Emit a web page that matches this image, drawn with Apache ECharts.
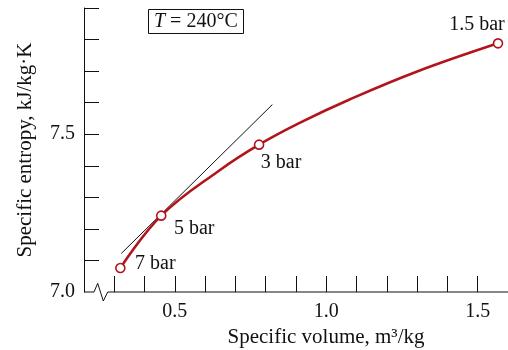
<!DOCTYPE html>
<html>
<head>
<meta charset="utf-8">
<script src="https://cdn.jsdelivr.net/npm/echarts@6/dist/echarts.min.js"></script>
<style>
html,body{margin:0;padding:0;background:#fff;}
#chart{width:508px;height:350px;}
</style>
</head>
<body>
<div id="chart"></div>
<script>
// ---- data ----
// marked states at T = 240°C
const pressureLabels = ['7 bar', '5 bar', '3 bar', '1.5 bar'];
const volume = [0.32, 0.455, 0.778, 1.567];      // m3/kg
const entropy = [7.076, 7.242, 7.467, 7.788];    // kJ/kg.K
// isotherm curve
const curveVolume = [0.32, 0.455, 0.648, 0.778, 0.912, 1.077, 1.298, 1.567];
const curveEntropy = [7.076, 7.242, 7.386, 7.467, 7.536, 7.610, 7.698, 7.788];
// tangent at 5 bar
const tangentVolume = [0.323, 0.822];
const tangentEntropy = [7.122, 7.594];
// ticks
const xTickValues = [0.3, 0.4, 0.5, 0.6, 0.7, 0.8, 0.9, 1.0, 1.1, 1.2, 1.3, 1.4, 1.5, 1.6];
const xLabelValues = [0.5, 1.0, 1.5];
const yTickValues = [7.1, 7.2, 7.3, 7.4, 7.5, 7.6, 7.7, 7.8, 7.9];
const yLabelValues = [7.0, 7.5];
const titleText = '240°C';

// ---- styling ----
const FONT = 'Liberation Serif';
const RED = '#b3141c';
const labelOffsets = [[35, -4], [33, 13], [22, 18], [-21, -19]];

const chart = echarts.init(document.getElementById('chart'), null, {renderer: 'canvas'});

const pointData = volume.map((v, i) => ({
  value: [v, entropy[i]],
  label: {
    show: true,
    formatter: pressureLabels[i],
    position: 'inside',
    align: 'center',
    verticalAlign: 'middle',
    offset: labelOffsets[i],
    fontFamily: FONT,
    fontSize: 20,
    color: '#111',
    opacity: 1,
    textBorderWidth: 0,
    textBorderColor: 'transparent'
  }
}));

const option = {
  animation: false,
  backgroundColor: '#fff',
  textStyle: {fontFamily: FONT},
  title: {
    text: '{it|T} = ' + titleText,
    left: 148,
    top: 9,
    padding: [2, 6, 1, 6],
    borderColor: '#111',
    borderWidth: 1,
    textStyle: {
      fontFamily: FONT, fontSize: 20, fontWeight: 'normal', color: '#111', lineHeight: 22,
      rich: {it: {fontFamily: FONT, fontSize: 20, fontStyle: 'italic', color: '#111', lineHeight: 22}}
    }
  },
  grid: {left: 84, right: 0, top: 8, bottom: 58, containLabel: false, outerBoundsMode: 'none'},
  xAxis: {
    type: 'value',
    min: 0.2, max: 1.6, interval: 0.1,
    name: 'Specific volume, m³/kg',
    nameLocation: 'middle',
    nameGap: 31,
    nameTextStyle: {fontFamily: FONT, fontSize: 21, color: '#111', padding: [0, 0, 0, 60]},
    axisLine: {show: false},
    axisTick: {show: true, inside: true, length: 16, customValues: xTickValues, lineStyle: {color: '#111', width: 1}},
    axisLabel: {
      customValues: xLabelValues, fontFamily: FONT, fontSize: 20, color: '#111', margin: 10,
      formatter: v => v.toFixed(1)
    },
    splitLine: {show: false}
  },
  yAxis: {
    type: 'value',
    min: 7.0, max: 7.9, interval: 0.1,
    name: 'Specific entropy, kJ/kg·K',
    nameLocation: 'middle',
    nameGap: 48,
    nameTextStyle: {fontFamily: FONT, fontSize: 21, color: '#111'},
    axisLine: {show: true, lineStyle: {color: '#111', width: 1}},
    axisTick: {show: true, inside: true, length: 15, customValues: yTickValues, lineStyle: {color: '#111', width: 1}},
    axisLabel: {
      customValues: yLabelValues, fontFamily: FONT, fontSize: 20, color: '#111', margin: 9,
      formatter: v => v.toFixed(1)
    },
    splitLine: {show: false}
  },
  series: [
    {
      type: 'line',
      data: tangentVolume.map((v, i) => [v, tangentEntropy[i]]),
      showSymbol: false,
      symbol: 'none',
      lineStyle: {color: '#111', width: 1},
      z: 2,
      silent: true
    },
    {
      type: 'line',
      data: curveVolume.map((v, i) => [v, curveEntropy[i]]),
      smooth: 0.4,
      symbol: 'none',
      lineStyle: {color: RED, width: 2.6},
      z: 3,
      silent: true
    },
    {
      type: 'scatter',
      data: pointData,
      symbol: 'circle',
      symbolSize: 9,
      itemStyle: {color: '#fff', borderColor: RED, borderWidth: 1.6, opacity: 1},
      z: 4,
      silent: true
    }
  ]
};

chart.setOption(option);

// x-axis line with a break symbol near the origin (positions derived from the axis scale)
const origin = chart.convertToPixel({xAxisIndex: 0, yAxisIndex: 0}, [0.2, 7.0]);
const endPt = chart.convertToPixel({xAxisIndex: 0, yAxisIndex: 0}, [1.6, 7.0]);
const ox = origin[0], oy = origin[1];
chart.setOption({
  graphic: [{
    type: 'polyline',
    shape: {points: [
      [ox, oy], [ox + 10, oy], [ox + 13.7, oy - 8.7], [ox + 19.3, oy + 9], [ox + 23.7, oy], [endPt[0], oy]
    ]},
    style: {stroke: '#111', lineWidth: 1, fill: null},
    z: 10
  }]
});
</script>
</body>
</html>
